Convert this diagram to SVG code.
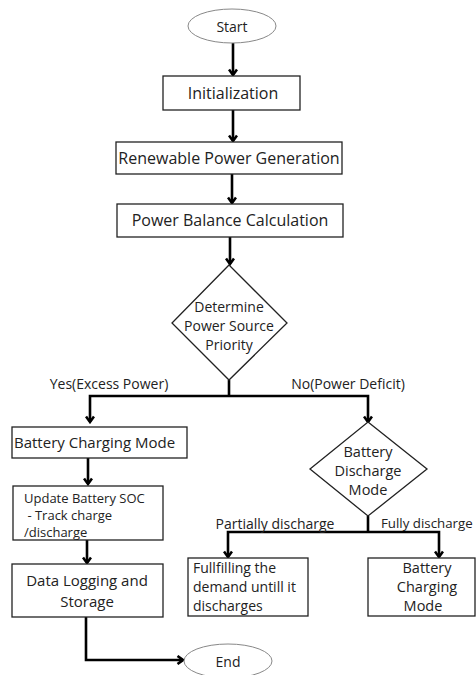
<svg xmlns="http://www.w3.org/2000/svg" width="476" height="675" viewBox="0 0 476 675">
<defs>
<marker id="ah" markerWidth="10" markerHeight="10" viewBox="0 0 10 10" refX="8.5" refY="5" orient="auto" markerUnits="userSpaceOnUse">
<polyline points="3,1 8.5,5 3,9" fill="none" stroke="#000" stroke-width="2.6" stroke-linejoin="miter"/>
</marker>
</defs>
<style>
.box{fill:#fff;stroke:#222;stroke-width:1.3}
.ell{fill:#fff;stroke:#888;stroke-width:1}
.t{font-family:"Open Sans","Noto Sans",sans-serif;font-size:16px;fill:#222;dominant-baseline:central}
.c{text-anchor:middle}
.s{font-size:13px}
.m{font-size:14px}
.d{font-size:14.5px}
.l{font-size:15px}
.ln{fill:none;stroke:#000;stroke-width:2.6}
</style>
<rect width="476" height="675" fill="#fff"/>
<g id="connectors">
<line class="ln" x1="233" y1="43" x2="233" y2="75" marker-end="url(#ah)"/>
<line class="ln" x1="233" y1="110" x2="233" y2="141" marker-end="url(#ah)"/>
<line class="ln" x1="232" y1="174" x2="232" y2="203" marker-end="url(#ah)"/>
<line class="ln" x1="230" y1="237" x2="230" y2="264" marker-end="url(#ah)"/>
<polyline class="ln" points="229,380 229,396"/>
<polyline class="ln" points="229,396 90,396 90,422" marker-end="url(#ah)"/>
<polyline class="ln" points="229,396 368,396 368,422" marker-end="url(#ah)"/>
<line class="ln" x1="88" y1="458" x2="88" y2="484" marker-end="url(#ah)"/>
<line class="ln" x1="87" y1="540" x2="87" y2="563" marker-end="url(#ah)"/>
<polyline class="ln" points="86,617 86,660 183,660" marker-end="url(#ah)"/>
<polyline class="ln" points="368,516 368,532"/>
<polyline class="ln" points="368,532 228,532 228,557" marker-end="url(#ah)"/>
<polyline class="ln" points="368,532 439,532 439,557" marker-end="url(#ah)"/>
<text class="t c m" x="109" y="383">Yes(Excess Power)</text>
<text class="t c m" x="348" y="383">No(Power Deficit)</text>
<text class="t c m" x="275" y="523">Partially discharge</text>
<text class="t" x="381" y="523" style="font-size:13.3px">Fully discharge</text>
</g>
<g id="start">
<ellipse class="ell" cx="232" cy="26" rx="44" ry="17"/>
<text class="t c m" x="232" y="26">Start</text>
</g>
<g id="init">
<rect class="box" x="163" y="76" width="137" height="34"/>
<text class="t c" x="233" y="93">Initialization</text>
</g>
<g id="renewable">
<rect class="box" x="116" y="142" width="226" height="32"/>
<text class="t c" x="229" y="158">Renewable Power Generation</text>
</g>
<g id="balance">
<rect class="box" x="117" y="204" width="226" height="33"/>
<text class="t c" x="230" y="220">Power Balance Calculation</text>
</g>
<g id="priority">
<polygon class="box" points="229,265 287,323 229,380 172,323"/>
<text class="t c m" x="229" y="306">Determine</text>
<text class="t c m" x="229" y="325">Power Source</text>
<text class="t c m" x="229" y="344">Priority</text>
</g>
<g id="charging">
<rect class="box" x="12" y="427" width="175" height="31"/>
<text class="t l" x="14" y="442">Battery Charging Mode</text>
</g>
<g id="soc">
<rect class="box" x="13" y="486" width="150" height="54"/>
<text class="t s" x="24" y="498">Update Battery SOC</text>
<text class="t s" x="24" y="515" xml:space="preserve"> - Track charge</text>
<text class="t s" x="24" y="532">/discharge</text>
</g>
<g id="logging">
<rect class="box" x="12" y="564" width="151" height="53"/>
<text class="t c l" x="87" y="580">Data Logging and</text>
<text class="t c l" x="87" y="601">Storage</text>
</g>
<g id="end">
<ellipse class="ell" cx="228" cy="661" rx="44" ry="17"/>
<text class="t c m" x="228" y="661">End</text>
</g>
<g id="discharge">
<polygon class="box" points="368,422 427,469 368,516 310,469"/>
<text class="t c d" x="368" y="451">Battery</text>
<text class="t c d" x="368" y="470">Discharge</text>
<text class="t c d" x="368" y="489">Mode</text>
</g>
<g id="fulfill">
<rect class="box" x="188" y="558" width="120" height="58"/>
<text class="t m" x="193" y="567">Fullfilling the</text>
<text class="t m" x="193" y="586">demand untill it</text>
<text class="t m" x="193" y="605">discharges</text>
</g>
<g id="recharge">
<rect class="box" x="368" y="558" width="107" height="58"/>
<text class="t c d" x="427" y="567">Battery</text>
<text class="t c d" x="427" y="586">Charging</text>
<text class="t c d" x="423" y="605">Mode</text>
</g>
</svg>
